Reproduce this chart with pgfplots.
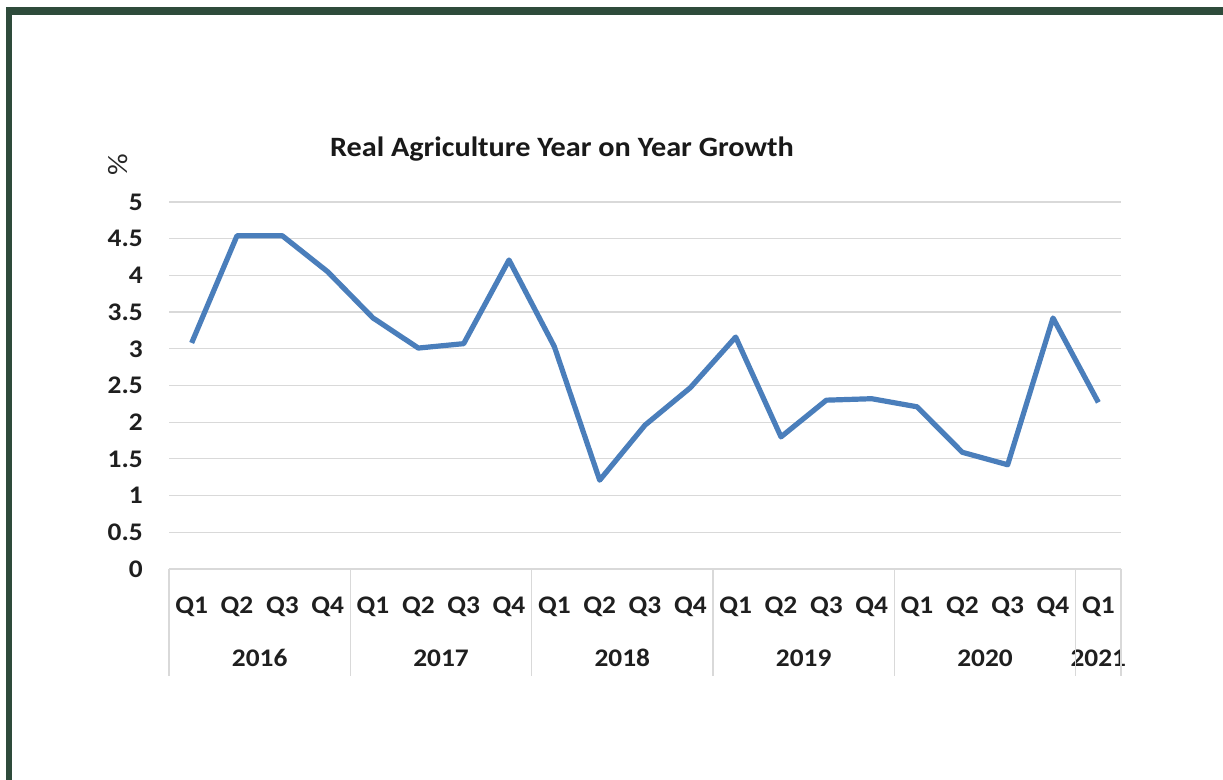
\documentclass[border=0pt]{standalone}
\usepackage{fontspec}
\setmainfont{Carlito}[FakeStretch=1.08]
\usepackage{pgfplots}
\pgfplotsset{compat=1.18}
\definecolor{frame}{HTML}{2E4B3B}
\definecolor{gridc}{HTML}{D9D9D9}
\definecolor{linec}{HTML}{4A7EBB}
\begin{document}
\begin{tikzpicture}
\path[fill=white] (0,0) rectangle (917.25pt,585pt);
\fill[frame] (4.5pt,573.75pt) rectangle (917.25pt,579.75pt);
\fill[frame] (4.5pt,0pt) rectangle (9pt,579.75pt);
\begin{axis}[
 at={(126.75pt,158.25pt)}, anchor=south west,
 scale only axis, width=714pt, height=275.25pt,
 xmin=-0.5, xmax=20.5, ymin=0, ymax=5,
 ytick={0,0.5,...,5},
 xtick={0,...,20},
 xticklabels={Q1,Q2,Q3,Q4,Q1,Q2,Q3,Q4,Q1,Q2,Q3,Q4,Q1,Q2,Q3,Q4,Q1,Q2,Q3,Q4,Q1},
 ymajorgrids, grid style={gridc, line width=0.9pt},
 axis line style={draw=none},
 major tick length=0pt,
 clip=false,
 /pgf/number format/assume math mode=true,
 tick label style={font=\bfseries\fontsize{19}{22}\selectfont, text=black!88},
 yticklabel style={anchor=east, inner sep=0pt, xshift=-19.5pt},
 xticklabel style={anchor=base, inner sep=0pt, yshift=-33.75pt},
 extra x ticks={1.5,5.5,9.5,13.5,17.5,20},
 extra x tick labels={2016,2017,2018,2019,2020,2021},
 extra x tick style={xticklabel style={yshift=-39.55pt}},
]
\addplot[linec, line width=3.9pt, line join=round] coordinates {
(0,3.08) (1,4.54) (2,4.54) (3,4.05) (4,3.42) (5,3.01) (6,3.07) (7,4.21)
(8,3.03) (9,1.21) (10,1.96) (11,2.47) (12,3.16) (13,1.80) (14,2.30) (15,2.32)
(16,2.21) (17,1.59) (18,1.42) (19,3.42) (20,2.27)};
\pgfplotsinvokeforeach{-0.5,3.5,7.5,11.5,15.5,19.5,20.5}{
  \draw[gridc, line width=0.9pt] (axis cs:#1,0) -- ++(0pt,-80.25pt);
}
\end{axis}
\node[anchor=base, font=\bfseries\fontsize{21}{25}\selectfont, text=black!90] at (421.5pt,467.25pt) {Real Agriculture Year on Year Growth};
\node[rotate=90, font=\fontsize{21}{24}\selectfont, text=black!85] at (88.5pt,461.25pt) {\%};
\end{tikzpicture}
\end{document}
